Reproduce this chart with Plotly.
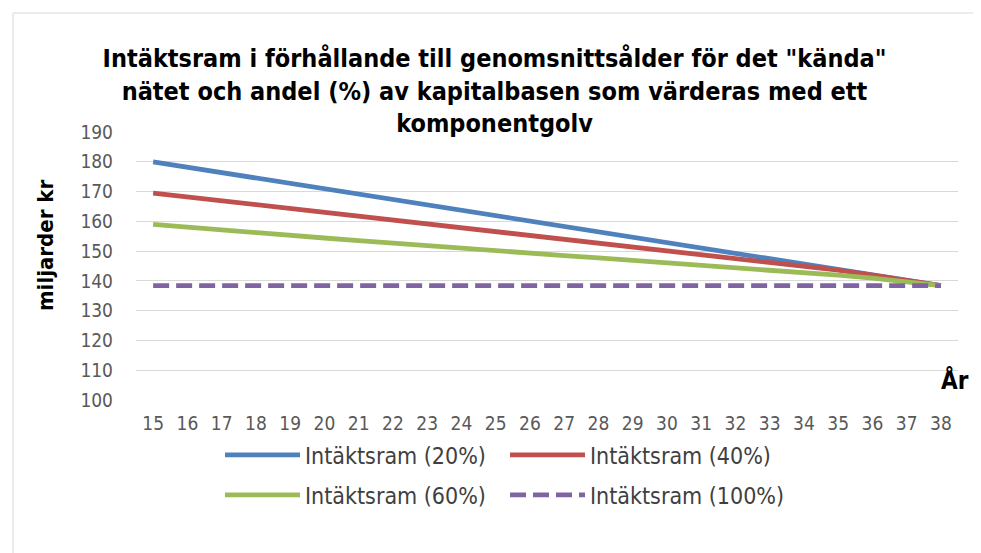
import plotly.graph_objects as go

years = list(range(15, 39))
ram_20 = [180.0, 178.2, 176.4, 174.6, 172.8, 171.0, 169.2, 167.4, 165.6, 163.8, 162.0, 160.2,
          158.4, 156.6, 154.8, 153.0, 151.2, 149.4, 147.6, 145.8, 144.0, 142.2, 140.3, 138.4]
ram_40 = [169.5, 168.2, 166.9, 165.6, 164.3, 163.0, 161.7, 160.4, 159.1, 157.8, 156.5, 155.2,
          153.9, 152.6, 151.3, 150.0, 148.7, 147.4, 146.2, 145.0, 143.6, 141.9, 140.2, 138.4]
ram_60 = [159.0, 158.0, 157.1, 156.2, 155.3, 154.4, 153.5, 152.6, 151.7, 150.9, 150.1, 149.3,
          148.5, 147.7, 146.9, 146.1, 145.3, 144.5, 143.7, 142.8, 141.9, 140.9, 139.7, 138.4]
ram_100 = [138.4] * 24

series = [
    ("Intäktsram (20%)", ram_20, "#4f81bd", "solid", "legend"),
    ("Intäktsram (40%)", ram_40, "#c0504d", "solid", "legend"),
    ("Intäktsram (60%)", ram_60, "#9bbb59", "solid", "legend2"),
    ("Intäktsram (100%)", ram_100, "#8064a2", "16px,7px", "legend2"),
]

FONT = "DejaVu Sans Condensed, Liberation Sans Narrow, Noto Sans, sans-serif"

# The page body adds an 8px offset; figure geometry below is in figure pixels.
W, H = 973, 545
PL, PR, PT, PB = 128, 950, 124, 392
PW, PH = PR - PL, PB - PT


def px(x):
    return (x - PL) / PW


def py(y):
    return (PB - y) / PH


fig = go.Figure()
for name, vals, color, dash, leg in series:
    fig.add_trace(go.Scatter(
        x=[str(y) for y in years], y=vals, name=name, mode="lines",
        line=dict(color=color, width=4.8, dash=dash), legend=leg,
    ))

legend_common = dict(
    orientation="h", xanchor="left", yanchor="middle",
    entrywidth=195, entrywidthmode="pixels", itemwidth=75,
    font=dict(family=FONT, size=23, color="#404040"),
    bgcolor="rgba(0,0,0,0)",
)

fig.update_layout(
    width=W, height=H,
    margin=dict(l=PL, r=W - PR, t=PT, b=H - PB),
    paper_bgcolor="white", plot_bgcolor="white",
    font=dict(family=FONT, size=19, color="#595959"),
    title=dict(
        text='Intäktsram i förhållande till genomsnittsålder för det "kända"<br>'
             'nätet och andel (%) av kapitalbasen som värderas med ett<br>komponentgolv',
        x=0.5, xanchor="center", xref="container", y=0.891, yanchor="top",
        font=dict(family=FONT, size=25, color="black", weight="bold"),
    ),
    xaxis=dict(
        type="category", range=[-0.5, 23.5], showgrid=False, zeroline=False, showline=False,
        ticks="", tickfont=dict(size=19, color="#595959"), ticklabelstandoff=10,
        automargin=False,
    ),
    yaxis=dict(
        range=[100, 190], dtick=10, showgrid=True, gridcolor="#d9d9d9", gridwidth=1,
        zeroline=False, showline=False, ticks="", ticklabelstandoff=22,
        tickfont=dict(size=19, color="#595959"), automargin=False,
    ),
    legend=dict(legend_common, x=px(212), y=py(447)),
    legend2=dict(legend_common, x=px(212), y=py(487)),
    showlegend=True,
)

fig.add_annotation(
    text="<b>miljarder kr</b>", xref="paper", yref="paper", x=px(37), y=py(238),
    xanchor="center", yanchor="middle", showarrow=False, textangle=-90,
    font=dict(family=FONT, size=22, color="black"),
)

fig.add_annotation(
    text="<b>År</b>", xref="paper", yref="paper", x=px(947), y=py(372),
    xanchor="center", yanchor="middle", showarrow=False,
    font=dict(family=FONT, size=24, color="black"),
)

fig.add_shape(
    type="rect", xref="paper", yref="paper",
    x0=px(5), x1=px(967), y0=py(560), y1=py(5),
    line=dict(color="#d9d9d9", width=1), fillcolor="rgba(0,0,0,0)", layer="below",
)

fig.write_html("out.html")
